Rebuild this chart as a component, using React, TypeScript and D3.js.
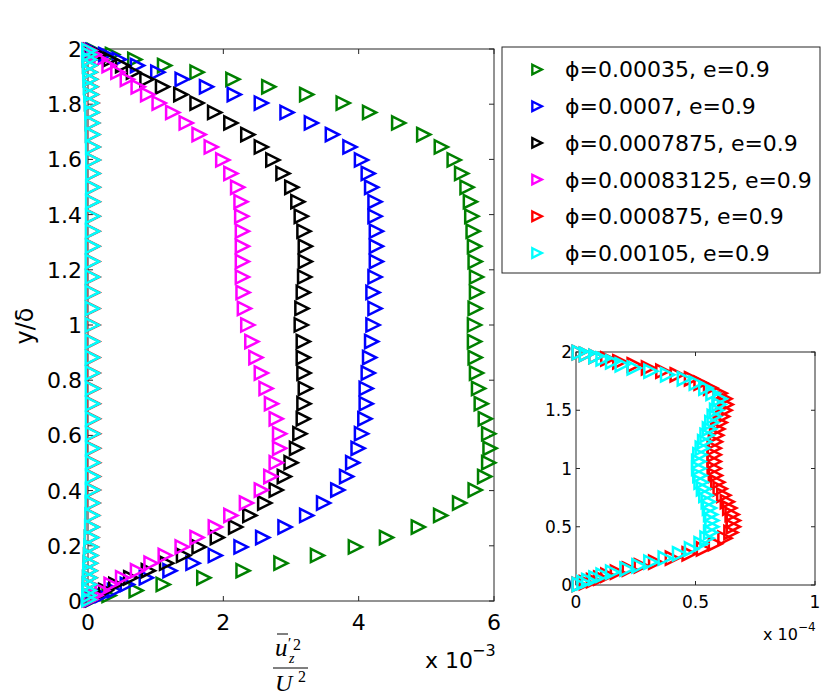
import React from 'react';
import * as d3 from 'd3';

// wall-normal positions y/δ shared by every profile
const yGrid = [
  0.005, 0.02, 0.038, 0.06, 0.084, 0.11, 0.137, 0.165, 0.196, 0.23, 0.268, 0.31, 0.355,
  0.402, 0.451, 0.501, 0.553, 0.606, 0.66, 0.715, 0.77, 0.826, 0.882, 0.94, 1.0,
  1.06, 1.118, 1.174, 1.23, 1.285, 1.34, 1.394, 1.447, 1.499, 1.549, 1.598, 1.645,
  1.69, 1.732, 1.77, 1.804, 1.835, 1.863, 1.89, 1.916, 1.94, 1.962, 1.98, 1.995,
];

// main panel values, units of 1e-3
const phi00035 = [
  0.06, 0.3, 0.7, 1.1, 1.7, 2.28, 2.84, 3.38, 3.94, 4.4, 4.87, 5.2, 5.48, 5.71, 5.85, 5.91,
  5.93, 5.91, 5.86, 5.8, 5.76, 5.73, 5.71, 5.7, 5.7,
  5.71, 5.73, 5.73, 5.71, 5.7, 5.68, 5.66, 5.64, 5.59, 5.51, 5.4, 5.21, 4.95, 4.58, 4.15,
  3.76, 3.22, 2.66, 2.13, 1.6, 1.12, 0.68, 0.35, 0.08,
];
const phi0007 = [
  0.05, 0.2, 0.38, 0.57, 0.85, 1.2, 1.54, 1.87, 2.25, 2.57, 2.9, 3.22, 3.47, 3.68, 3.81, 3.9,
  3.98, 4.03, 4.08, 4.1, 4.1, 4.13, 4.15, 4.18, 4.2,
  4.23, 4.2, 4.23, 4.25, 4.25, 4.25, 4.23, 4.23, 4.18, 4.13, 4.03, 3.86, 3.6, 3.29, 2.93,
  2.55, 2.15, 1.74, 1.38, 1.02, 0.72, 0.45, 0.25, 0.06,
];
const phi0007875 = [
  0.03, 0.12, 0.25, 0.4, 0.62, 0.88, 1.15, 1.4, 1.63, 1.9, 2.17, 2.38, 2.6, 2.77, 2.89, 2.99,
  3.07, 3.12, 3.17, 3.18, 3.2, 3.18, 3.17, 3.17, 3.14,
  3.15, 3.17, 3.19, 3.2, 3.2, 3.18, 3.14, 3.09, 3.0, 2.87, 2.72, 2.55, 2.35, 2.1, 1.86,
  1.6, 1.36, 1.09, 0.86, 0.66, 0.5, 0.32, 0.16, 0.03,
];
const phi00083125 = [
  0.03, 0.1, 0.2, 0.33, 0.5, 0.72, 0.92, 1.13, 1.38, 1.6, 1.87, 2.1, 2.33, 2.55, 2.69, 2.77,
  2.82, 2.82, 2.77, 2.7, 2.62, 2.55, 2.47, 2.41, 2.35,
  2.3, 2.28, 2.27, 2.27, 2.27, 2.27, 2.26, 2.25, 2.2, 2.1, 1.98, 1.81, 1.63, 1.44, 1.24,
  1.04, 0.87, 0.73, 0.57, 0.43, 0.3, 0.18, 0.08, 0.02,
];
// small profiles, units of 1e-4 (inset)
const phi000875 = [
  0.01, 0.04, 0.07, 0.1, 0.13, 0.17, 0.22, 0.27, 0.33, 0.4, 0.47, 0.53, 0.58, 0.62, 0.645, 0.655,
  0.655, 0.65, 0.64, 0.63, 0.615, 0.6, 0.59, 0.58, 0.575,
  0.575, 0.575, 0.575, 0.58, 0.585, 0.59, 0.6, 0.61, 0.62, 0.625, 0.62, 0.6, 0.56, 0.52, 0.48,
  0.42, 0.36, 0.3, 0.24, 0.18, 0.13, 0.08, 0.04, 0.01,
];
const phi00105 = [
  0.01, 0.03, 0.05, 0.08, 0.11, 0.15, 0.21, 0.26, 0.31, 0.37, 0.43, 0.48, 0.52, 0.545, 0.56, 0.565,
  0.565, 0.56, 0.555, 0.55, 0.54, 0.53, 0.52, 0.515, 0.51,
  0.51, 0.515, 0.525, 0.535, 0.545, 0.555, 0.565, 0.575, 0.585, 0.595, 0.6, 0.57, 0.54, 0.5, 0.45,
  0.38, 0.31, 0.24, 0.19, 0.15, 0.11, 0.08, 0.04, 0.01,
];

const labels = [
  'ϕ=0.00035, e=0.9',
  'ϕ=0.0007, e=0.9',
  'ϕ=0.0007875, e=0.9',
  'ϕ=0.00083125, e=0.9',
  'ϕ=0.000875, e=0.9',
  'ϕ=0.00105, e=0.9',
];
const colors = ['#008000', '#0000ff', '#000000', '#ff00ff', '#ff0000', '#00ffff'];

// main panel in 1e-3 units; last two series are stored in 1e-4
const mainSeries = [phi00035, phi0007, phi0007875, phi00083125, phi000875.map((v) => v / 10), phi00105.map((v) => v / 10)];
const insetSeries = [
  { values: phi000875, color: colors[4] },
  { values: phi00105, color: colors[5] },
];

const mainXTicks = [0, 2, 4, 6];
const mainYTicks = [0, 0.2, 0.4, 0.6, 0.8, 1, 1.2, 1.4, 1.6, 1.8, 2];
const insetXTicks = [0, 0.5, 1];
const insetYTicks = [0, 0.5, 1, 1.5, 2];

const FONT = 'DejaVu Sans, Arial, sans-serif';
const SERIF = 'Liberation Serif, DejaVu Serif, serif';
const AXIS = '#262626';

const tri = (s: number) => `M${-0.44 * s},${-0.5 * s}L${0.56 * s},0L${-0.44 * s},${0.5 * s}Z`;

const App: React.FC = () => {
  const width = 830;
  const height = 698;

  const x = d3.scaleLinear().domain([0, 6]).range([88, 494]);
  const y = d3.scaleLinear().domain([0, 2]).range([601, 49]);

  const xi = d3.scaleLinear().domain([0, 1]).range([576, 815]);
  const yi = d3.scaleLinear().domain([0, 2]).range([585, 352]);

  const marker = tri(13.2);

  return (
    <svg width={width} height={height} style={{ position: 'absolute', left: 0, top: 0, background: '#fff' }}>
      {/* main axes box */}
      <rect x={88} y={49} width={406} height={552} fill="none" stroke={AXIS} strokeWidth={1} />
      {mainXTicks.map((t) => (
        <g key={`mx${t}`}>
          <line x1={x(t)} x2={x(t)} y1={601} y2={596} stroke={AXIS} />
          <line x1={x(t)} x2={x(t)} y1={49} y2={54} stroke={AXIS} />
          <text x={x(t)} y={630} textAnchor="middle" fontFamily={FONT} fontSize={22}>{t}</text>
        </g>
      ))}
      {mainYTicks.map((t) => (
        <g key={`my${t}`}>
          <line x1={88} x2={93} y1={y(t)} y2={y(t)} stroke={AXIS} />
          <line x1={494} x2={489} y1={y(t)} y2={y(t)} stroke={AXIS} />
          <text x={82} y={y(t)} dy="0.36em" textAnchor="end" fontFamily={FONT} fontSize={22}>{t}</text>
        </g>
      ))}

      {/* profiles */}
      {mainSeries.map((vals, si) => (
        <g key={`s${si}`} fill="none" stroke={colors[si]} strokeWidth={2.5} strokeLinejoin="miter">
          {vals.map((v, i) => (
            <path key={i} d={marker} transform={`translate(${x(v)},${y(yGrid[i])})`} />
          ))}
        </g>
      ))}

      {/* axis labels */}
      <text transform="translate(33,326) rotate(-90)" textAnchor="middle" fontFamily={FONT} fontSize={24}>y/δ</text>
      <g fontFamily={SERIF}>
        <text x={275} y={656} fontSize={25} fontStyle="italic">u</text>
        <line x1={277} x2={288} y1={634} y2={634} stroke="#000" strokeWidth={1} />
        <text x={288} y={648} fontSize={15}>′</text>
        <text x={293} y={650} fontSize={16}>2</text>
        <text x={289} y={663} fontSize={14} fontStyle="italic">z</text>
        <line x1={273} x2={308} y1={668} y2={668} stroke="#000" strokeWidth={1} />
        <text x={275} y={691} fontSize={24} fontStyle="italic">U</text>
        <text x={298} y={682} fontSize={16}>2</text>
      </g>
      <text x={425} y={668} fontFamily={FONT} fontSize={22}>x 10</text>
      <text x={472} y={656} fontFamily={FONT} fontSize={16}>−3</text>

      {/* legend */}
      <rect x={502} y={47} width={318} height={226} fill="#fff" stroke={AXIS} strokeWidth={1} />
      {labels.map((l, i) => (
        <g key={l} transform={`translate(0,${69.5 + i * 36.7})`}>
          <path d={tri(9.5)} transform="translate(536.5,0)" fill="none" stroke={colors[i]} strokeWidth={2.4} />
          <text x={565} y={0} dy="0.36em" fontFamily={FONT} fontSize={22}>{l}</text>
        </g>
      ))}

      {/* inset */}
      <rect x={576} y={352} width={239} height={233} fill="none" stroke={AXIS} strokeWidth={1} />
      {insetXTicks.map((t) => (
        <g key={`ix${t}`}>
          <line x1={xi(t)} x2={xi(t)} y1={585} y2={581} stroke={AXIS} />
          <line x1={xi(t)} x2={xi(t)} y1={352} y2={356} stroke={AXIS} />
          <text x={xi(t)} y={608} textAnchor="middle" fontFamily={FONT} fontSize={17}>{t}</text>
        </g>
      ))}
      {insetYTicks.map((t) => (
        <g key={`iy${t}`}>
          <line x1={576} x2={580} y1={yi(t)} y2={yi(t)} stroke={AXIS} />
          <line x1={815} x2={811} y1={yi(t)} y2={yi(t)} stroke={AXIS} />
          <text x={572} y={yi(t)} dy="0.36em" textAnchor="end" fontFamily={FONT} fontSize={17}>{t}</text>
        </g>
      ))}
      {insetSeries.map((s, si) => (
        <g key={`is${si}`} fill="none" stroke={s.color} strokeWidth={2.5}>
          {s.values.map((v, i) => (
            <path key={i} d={marker} transform={`translate(${xi(v)},${yi(yGrid[i])})`} />
          ))}
        </g>
      ))}
      <text x={763} y={640} fontFamily={FONT} fontSize={16}>x 10</text>
      <text x={798} y={631} fontFamily={FONT} fontSize={12}>−4</text>
    </svg>
  );
};

export default App;
